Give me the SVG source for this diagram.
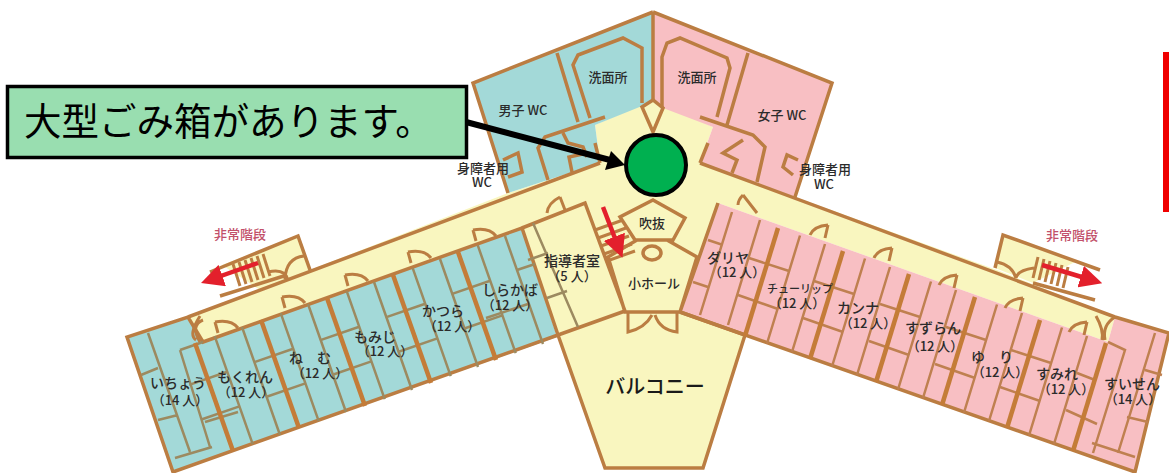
<svg xmlns="http://www.w3.org/2000/svg" width="1169" height="473" viewBox="0 0 1169 473">
<style>
text{font-family:"Noto Sans CJK JP","Liberation Sans",sans-serif;fill:#2b2b2b;text-anchor:middle;font-weight:500}
.w{fill:none;stroke:#bb7d42;stroke-width:3.500;stroke-linejoin:miter}
.h{fill:none;stroke:#c47c38;stroke-width:4.500}
.t{fill:none;stroke:#9c8a60;stroke-width:2.500}
.tp{fill:none;stroke:#bf8050;stroke-width:2.500}
.d{fill:none;stroke:#bb7d42;stroke-width:3}
.s{font-size:13px}
.l{font-size:14px}
.e{font-size:13px;fill:#c2506a}
.r{fill:none;stroke:#e3202c;stroke-width:4.500}
</style>
<defs>
<g id="bayL">
<path class="t" d="M19.700-6.800l38 108M47-16l38 108M-5.800 41.900L32.200 28.800M6.400 76.500L44.400 63.400"/>
<path class="h" d="M0 0l38 108"/>
</g>
<g id="bayR">
<path class="tp" d="M22 7.500l-33 108M47 16l-33 108M-29 30L11 43M-40 67L0 81"/>
<path class="h" d="M0 0l-33 108"/>
</g>
<path id="doorL" class="d" d="M0 0l3 11M0 0Q16-3 23 6"/>
<path id="doorR" class="d" d="M0 0l-3 13M0 0Q-14 1-18 10"/>
<marker id="ra" markerWidth="5" markerHeight="5" refX="1" refY="2.500" orient="auto" markerUnits="strokeWidth"><path d="M0 0L5 2.500L0 5z" fill="#e3202c"/></marker>
</defs>

<g id="floors">
<path fill="#f9f6bf" d="M188 317L310 270L508 193L600 163L595 125L653 100L713 127L700 163L795 197L997 270L1115 317L1108 342L718 203L680 312L745 335L703 468L605 468L558 335L522 228L203 342z"/>
<path fill="#f9f6bf" d="M298 236L222 265L260 290L310 270zM1003 235L1075 262L1033 283L995 268z"/>
<path fill="#a3d9d8" d="M653 12L473 83L508 193L600 163L595 125L642 106L653 100z"/>
<path fill="#f8bfc3" d="M653 12L832 83L795 197L700 163L713 127L663 108L653 100z"/>
<path fill="#a3d9d8" d="M127 337L187 318L203 342L522 228L557 337L173 472z"/>
<path fill="#f8bfc3" d="M718 203L1108 342L1115 317L1169 333L1169 337L1135 472L680 312z"/>
</g>

<g id="walls">
<path class="w" d="M653 12L473 83L508 193M653 12L832 83L795 197M653 12V100"/>
<path class="w" d="M188 317L600 163M700 163L1115 317L1169 333M1169 333L1135 472L680 312M625 311L558 335L173 472L127 337L188 317L203 342L522 228L558 335L605 468H703L745 335"/>
<path class="w" d="M557 53L578 122M590 118L573 65L578 55L623 38L642 48V103M653 100L642 107L653 132L663 108ZM605 117L545 137L538 148L548 180M563 133L568 143L583 147L587 157M572 172L569 157L587 153M595 143L600 163M503 160L518 153L522 172L508 177"/>
<path class="w" d="M748 53L727 125M662 107V57L667 43L680 38L727 58L730 68L717 117M700 117L753 135L765 147L757 182M708 143L700 163M743 140L723 153L737 160L732 173M798 160L787 155L783 167L793 175"/>
<path class="w" d="M653 200L685 218L673 240H635L620 217ZM608 257L637 240H667L697 257L680 312H625L608 257ZM522 228L585 203L625 311M680 312L745 335M718 203L680 312"/>
<path class="t" d="M533 223L578 327M547 298L567 291M528 260L548 253"/>
<ellipse class="w" cx="652" cy="253" rx="9" ry="7"/>
<path class="d" d="M595 230L623 220M598 238L626 228M601 246L629 236M604 254L632 244M607 261L635 251M628 312V332Q645 328 652 315M677 312V332Q660 330 655 315"/>
</g>

<g id="rooms-left">
<path class="t" d="M148 333L190 452M141 375L158 368M158 420L178 415M180 350L210 447M180 350L203 342M175 458L212 447M205 422L238 412M517 270L535 264M486 318L528 304"/>
<use href="#bayL" x="195" y="343"/>
<use href="#bayL" x="261" y="320"/>
<use href="#bayL" x="327" y="298"/>
<use href="#bayL" x="393" y="275"/>
<use href="#bayL" x="458" y="252"/>
</g>

<g id="rooms-right">
<path class="tp" d="M732 212L700 315M760 220L728 325M708 240L723 245M693 282L708 287M1155 333L1118 453M1145 370L1162 375M1127 417L1148 422M1092 443L1135 457M1108 342L1125 350L1093 453M1077 373L1095 380M1066 410L1097 424"/>
<use href="#bayR" x="778" y="228"/>
<use href="#bayR" x="843" y="251"/>
<use href="#bayR" x="909" y="274"/>
<use href="#bayR" x="975" y="297"/>
<use href="#bayR" x="1040" y="320"/>
<path class="h" d="M1106 343L1073 451"/>
</g>

<g id="doors">
<use href="#doorL" x="215" y="322"/>
<use href="#doorL" x="282" y="297"/>
<use href="#doorL" x="345" y="275"/>
<use href="#doorL" x="408" y="252"/>
<use href="#doorL" x="473" y="230"/>
<path class="d" d="M560 197L565 210M560 197Q548 203 547 213M200 316Q188 335 196 340M200 342Q190 325 203 320M743 195L757 213M743 195Q738 200 738 205"/>
<use href="#doorR" x="828" y="225"/>
<use href="#doorR" x="892" y="248"/>
<use href="#doorR" x="957" y="275"/>
<use href="#doorR" x="1023" y="298"/>
<use href="#doorR" x="1087" y="322"/>
<path class="d" d="M1115 317Q1102 325 1105 340M1096 316Q1104 330 1102 340"/>
</g>

<g id="stairs-left">
<path class="w" d="M210 272L298 236L310 270M220 296L287 275"/>
<path class="d" d="M233 264L240 286M239 262L246 284M245 260L252 282M251 258L258 280M257 256L264 278M263 254L270 276M268 272Q285 268 288 280M304 256Q286 258 285 279"/>
<path class="r" d="M258 263L218 277" marker-end="url(#ra)"/>
</g>

<g id="stairs-right">
<path class="w" d="M995 268L1003 235L1100 270M1033 283L1095 300"/>
<path class="d" d="M1038 257L1033 278M1044 259L1039 280M1050 261L1045 282M1056 263L1051 284M1062 265L1057 286M1068 267L1063 288M997 262Q1012 265 1016 278M1034 268Q1018 270 1016 278"/>
<path class="r" d="M1042 265L1085 278" marker-end="url(#ra)"/>
</g>
<path class="r" d="M603 207L616 241" marker-end="url(#ra)"/>

<g id="labels">
<text class="e" x="240" y="239">非常階段</text>
<text class="e" x="1072" y="240">非常階段</text>
<text class="s" x="608" y="82">洗面所</text>
<text class="s" x="697" y="82">洗面所</text>
<text class="s" x="523" y="115">男子 WC</text>
<text class="s" x="782" y="120">女子 WC</text>
<text class="s" x="483" y="173">身障者用</text>
<text class="s" x="482" y="187">WC</text>
<text class="s" x="825" y="174">身障者用</text>
<text class="s" x="824" y="189">WC</text>
<text class="s" x="652" y="228">吹抜</text>
<text class="s" x="654" y="288">小ホール</text>
<text class="l" x="572" y="266">指導者室</text>
<text class="s" x="572" y="281">（5 人）</text>
<text x="655" y="394" style="font-size:20px;fill:#1a1a1a">バルコニー</text>
<text class="l" x="178" y="388">いちょう</text>
<text class="s" x="180" y="405">（14 人）</text>
<text class="l" x="245" y="382">もくれん</text>
<text class="s" x="246" y="397">（12 人）</text>
<text class="l" x="310" y="363">ね　む</text>
<text class="s" x="320" y="378">（12 人）</text>
<text class="l" x="375" y="342">もみじ</text>
<text class="s" x="385" y="356">（12 人）</text>
<text class="l" x="443" y="316">かつら</text>
<text class="s" x="452" y="331">（12 人）</text>
<text class="l" x="510" y="295">しらかば</text>
<text class="s" x="510" y="310">（12 人）</text>
<text class="l" x="728" y="263">ダリヤ</text>
<text class="s" x="737" y="277">（12 人）</text>
<text x="800" y="293" style="font-size:11px">チューリップ</text>
<text class="s" x="797" y="308">（12 人）</text>
<text class="l" x="858" y="313">カンナ</text>
<text class="s" x="868" y="328">（12 人）</text>
<text class="l" x="933" y="333">すずらん</text>
<text class="s" x="935" y="351">（12 人）</text>
<text class="l" x="992" y="362">ゆ　り</text>
<text class="s" x="1000" y="377">（12 人）</text>
<text class="l" x="1057" y="379">すみれ</text>
<text class="s" x="1066" y="394">（12 人）</text>
<text class="l" x="1132" y="389">すいせん</text>
<text class="s" x="1133" y="404">（14 人）</text>
</g>

<g id="callout-connector">
<path d="M466 122L610 160" fill="none" stroke="#000" stroke-width="6"/>
<path d="M625 165L611 151L605 170z" fill="#000"/>
</g>
<g id="callout">
<rect x="7.500" y="86.500" width="459" height="71" fill="#99deb0" stroke="#000" stroke-width="3.500"/>
<text x="24" y="135" style="font-size:37.500px;fill:#000;text-anchor:start;font-weight:400">大型ごみ箱があります。</text>
</g>
<g id="marker-circle">
<circle cx="656" cy="165" r="30" fill="#00b050" stroke="#000" stroke-width="4"/>
</g>
<rect id="red-bar" x="1163" y="52" width="6" height="160" fill="#f00000"/>
</svg>
